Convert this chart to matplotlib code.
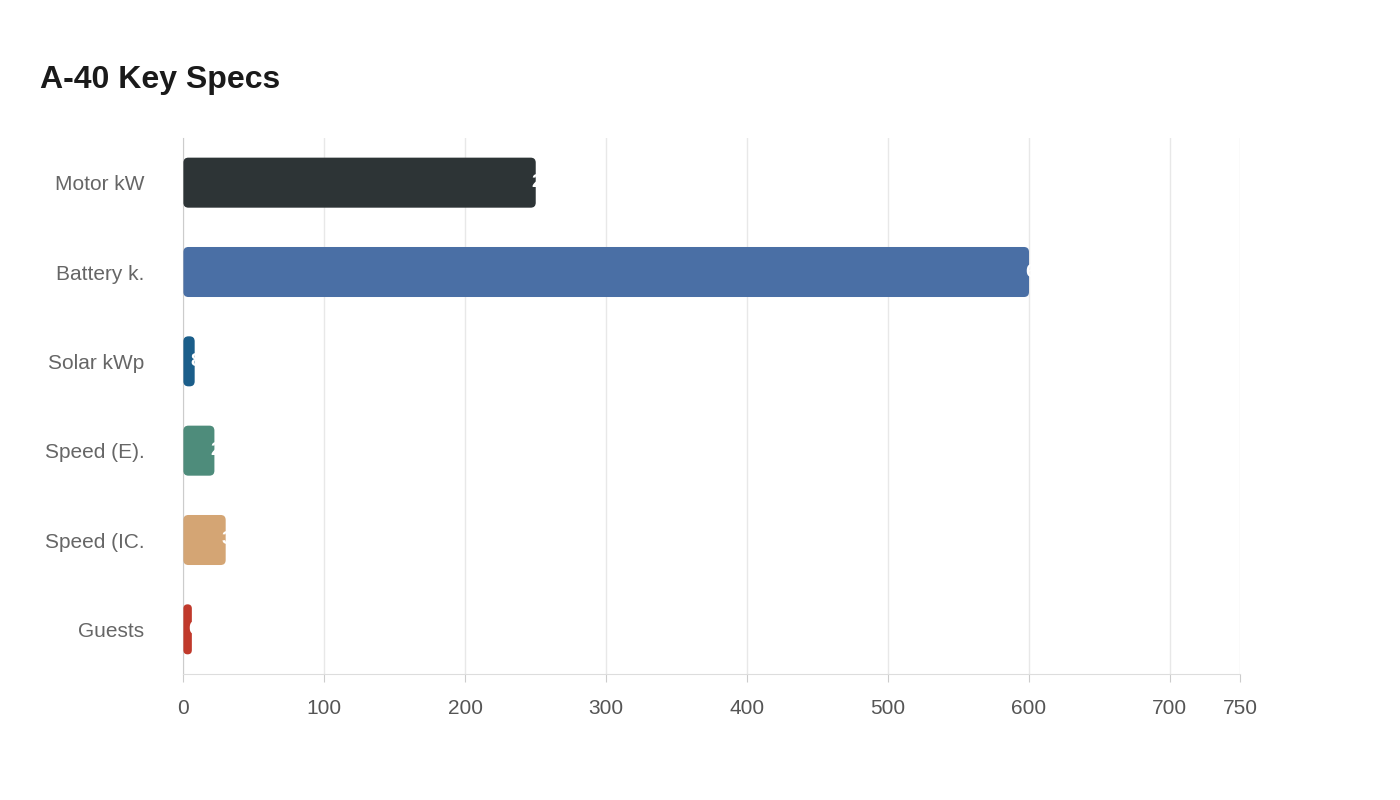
import matplotlib
matplotlib.use("Agg")
import matplotlib.pyplot as plt
from matplotlib.patches import FancyBboxPatch

plt.rcParams['font.family'] = ['Liberation Sans', 'DejaVu Sans']

categories = ["Motor kW", "Battery k.", "Solar kWp", "Speed (E).", "Speed (IC.", "Guests"]
values = [250, 600, 8, 22, 30, 6]
colors = ["#2d3436", "#4a6fa5", "#1b5e8a", "#4e8c7b", "#d4a574", "#c0392b"]
ticks = [0, 100, 200, 300, 400, 500, 600, 700, 750]

fig = plt.figure(figsize=(14, 8), dpi=100)
ax = fig.add_axes([0.131, 0.1575, 0.755, 0.67])
ax.set_xlim(0, 750)
ax.set_ylim(5.5, -0.5)

h = 0.56
# px per data unit, for rounding corners evenly
px_x = 1056 / 750
px_y = 536 / 6
for i, (v, c) in enumerate(zip(values, colors)):
    r = 5 / px_x
    patch = FancyBboxPatch((0, i - h / 2), v, h,
                           boxstyle=f"round,pad=0,rounding_size={min(r, v / 2)}",
                           mutation_aspect=px_x / px_y, fc=c, ec="none", zorder=3)
    ax.add_patch(patch)
    t = ax.text(v - 4 / px_x, i, str(v), color="white", fontsize=14, fontweight="bold",
                ha="left", va="center", zorder=4)
    t.set_clip_path(patch)

ax.set_yticks(range(len(categories)))
ax.set_yticklabels(categories, fontsize=15, color="#666666")
ax.set_xticks(ticks)
ax.set_xticklabels([str(t) for t in ticks], fontsize=15, color="#555555")
ax.tick_params(axis="y", length=0, pad=28)
ax.tick_params(axis="x", length=6, color="#cccccc", pad=12)
ax.grid(axis="x", color="#e8e8e8", lw=1, zorder=0)
for s in ["top", "right"]:
    ax.spines[s].set_visible(False)
ax.spines["left"].set_color("#cccccc")
ax.spines["bottom"].set_color("#dddddd")

fig.text(40 / 1400, 1 - 80 / 800, "A-40 Key Specs", fontsize=23, fontweight="bold",
         color="#1a1a1a", va="center")

fig.savefig("out.png")
